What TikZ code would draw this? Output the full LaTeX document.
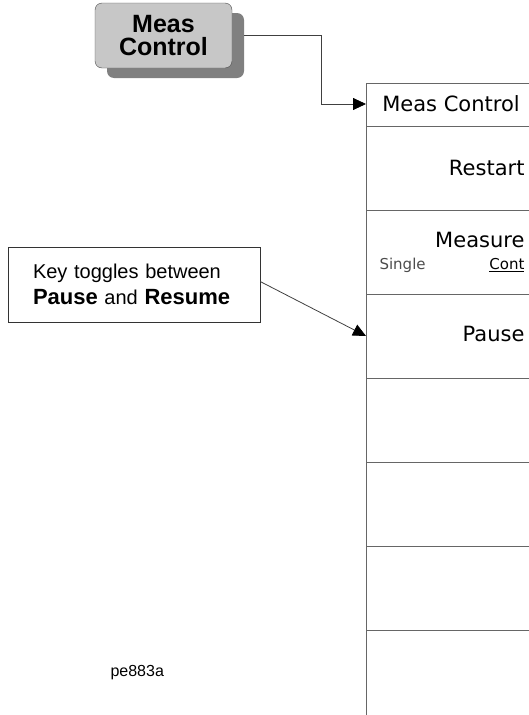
\documentclass[tikz,border=0pt]{standalone}
\usepackage{fontspec}
\setmainfont{Liberation Sans}
\newfontfamily\menufont{DejaVu Sans}
\usetikzlibrary{arrows.meta,shadows}

\tikzset{
  keybtn/.style={draw=black!70, fill=black!22, rounded corners=7pt,
    minimum width=137pt, minimum height=65pt, align=center,
    font=\fontsize{25}{25}\selectfont\bfseries,
    drop shadow={shadow xshift=12pt, shadow yshift=-10pt, fill=black!50, opacity=1}},
  callout/.style={draw=black!80, fill=white, minimum height=75pt, inner xsep=25pt,
    text width=202pt, align=left, font=\fontsize{20}{26}\selectfont},
  menutxt/.style={font=\menufont\fontsize{21}{21}\selectfont},
  smalltxt/.style={font=\menufont\fontsize{15}{15}\selectfont},
  sep/.style={draw=black!60, line width=0.8pt},
  tip/.style={-{Triangle[length=13pt,width=12pt,color=black]}, draw=black!75, line width=0.8pt}
}

\begin{document}
\begin{tikzpicture}[x=1pt,y=-1pt]
  \useasboundingbox (0,0) rectangle (529,715);

  % Taste oben links
  \node[keybtn] (key) at (163.5,35.5) {Meas\\[-2pt]Control};

  % Menuefeld
  \draw[sep] (366,715) -- (366,83) -- (529,83);
  \foreach \y in {126,210,294,378,462,546,630}
    \draw[sep] (366,\y) -- (529,\y);

  % Beschriftungen der Softkeys
  \node[menutxt] (title) at (451,104) {Meas Control};
  \node[menutxt, anchor=east] (restart) at (528,168) {Restart};
  \node[menutxt, anchor=east] (measure) at (528,240) {Measure};
  \node[smalltxt, text=black!70, anchor=west] (single) at (376,265) {Single};
  \node[smalltxt, anchor=east] (cont) at (528,265) {\underline{Cont}};
  \node[menutxt, anchor=east] (pause) at (528,334) {Pause};

  % Hinweis
  \node[callout] (note) at (134,284.5) {Key toggles between\\{\fontsize{22}{26}\selectfont\bfseries Pause} and {\fontsize{22}{26}\selectfont\bfseries Resume}};
  \node[font=\fontsize{16}{16}\selectfont, anchor=west] (fig) at (107,673) {pe883a};

  % Pfeile
  \coordinate (ttl) at (366,104);
  \coordinate (pse) at (366,336);
  \draw[tip] ([xshift=12pt]key.east) -| ([xshift=-45pt]ttl) -- (ttl);
  \draw[tip] ([yshift=3pt]note.east) -- (pse);
\end{tikzpicture}
\end{document}
